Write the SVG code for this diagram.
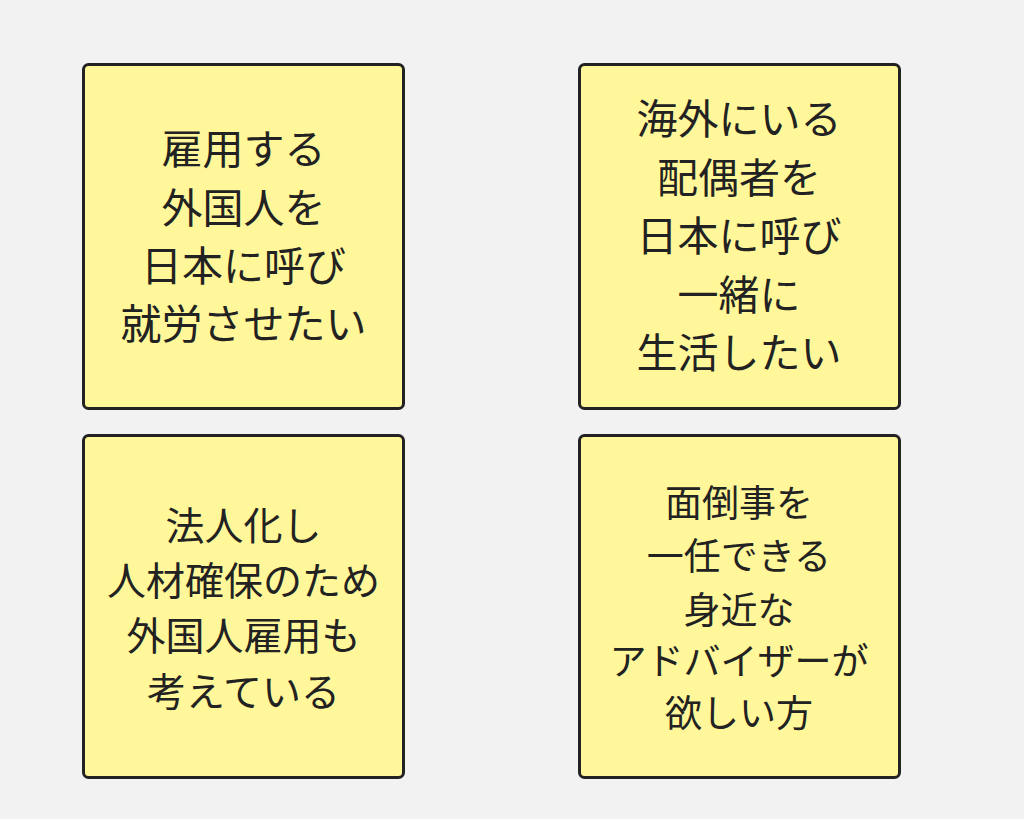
<svg xmlns="http://www.w3.org/2000/svg" width="1024" height="819" viewBox="0 0 1024 819">
<style>
.note{fill:#fff799;stroke:#222;stroke-width:3}
.t{font-family:'Noto Sans CJK JP','Noto Sans CJK SC',sans-serif;fill:#222;text-anchor:middle}
.l{font-size:41px}
.s{font-size:37px}
.m{font-size:39px}
</style>
<rect width="1024" height="819" fill="#f2f2f2"/>
<g id="connectors"></g>
<g id="node-1">
<rect class="note" x="83.5" y="64.5" width="320" height="344" rx="5"/>
<text class="t l" x="243.5"><tspan x="243.5" y="164">雇用する</tspan><tspan x="243.5" y="223">外国人を</tspan><tspan x="243.5" y="281">日本に呼び</tspan><tspan x="243.5" y="339">就労させたい</tspan></text>
</g>
<g id="node-2">
<rect class="note" x="579.5" y="64.5" width="320" height="344" rx="5"/>
<text class="t l" x="739"><tspan x="739" y="134">海外にいる</tspan><tspan x="739" y="193">配偶者を</tspan><tspan x="739" y="251">日本に呼び</tspan><tspan x="739" y="310">一緒に</tspan><tspan x="739" y="368">生活したい</tspan></text>
</g>
<g id="node-3">
<rect class="note" x="83.5" y="435.5" width="320" height="342" rx="5"/>
<text class="t m" x="243.5"><tspan x="243.5" y="540">法人化し</tspan><tspan x="243.5" y="595">人材確保のため</tspan><tspan x="243.5" y="650">外国人雇用も</tspan><tspan x="243.5" y="706">考えている</tspan></text>
</g>
<g id="node-4">
<rect class="note" x="579.5" y="435.5" width="320" height="342" rx="5"/>
<text class="t s" x="739"><tspan x="739" y="517">面倒事を</tspan><tspan x="739" y="570">一任できる</tspan><tspan x="739" y="624">身近な</tspan><tspan x="739" y="675">アドバイザーが</tspan><tspan x="739" y="727">欲しい方</tspan></text>
</g>
</svg>
